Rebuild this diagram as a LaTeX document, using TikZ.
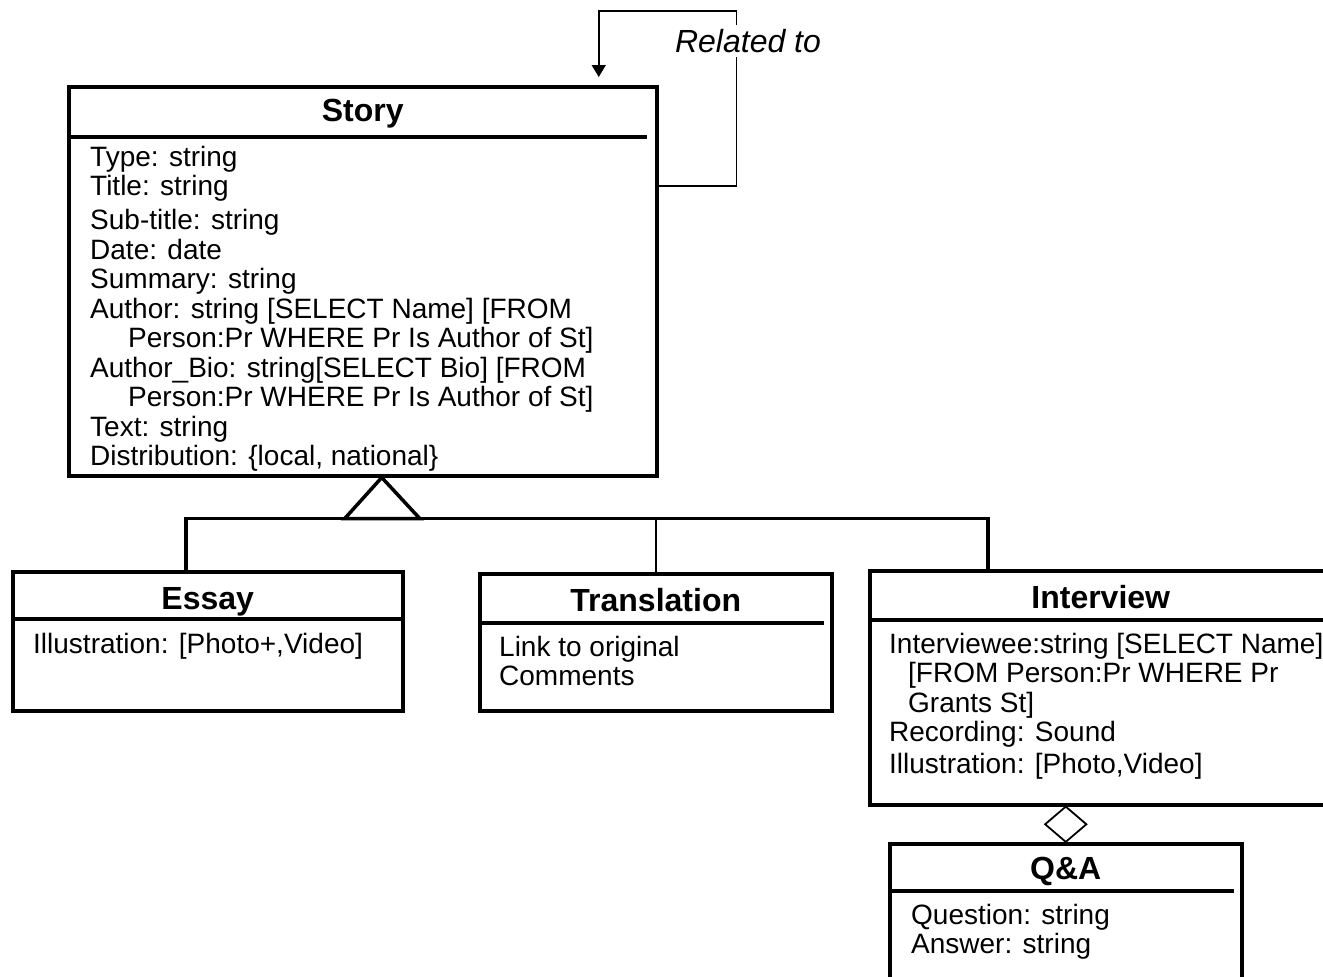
\documentclass[tikz,border=0pt]{standalone}
\usepackage{fontspec}
\setmainfont{Liberation Sans}
\usetikzlibrary{positioning, arrows.meta, calc, shapes.geometric}
\tikzset{
  classbox/.style={draw, line width=3.5pt, anchor=north west, inner sep=0pt},
  classname/.style={font=\fontsize{32}{36}\selectfont\bfseries, anchor=base, inner sep=0pt},
  attrs/.style={font=\fontsize{28}{29.5}\selectfont, align=left, anchor=north west, inner sep=0pt},
  divider/.style={line width=3.5pt},
  link/.style={line width=1.8pt},
  rolelabel/.style={font=\fontsize{32}{36}\selectfont\itshape, fill=white, inner sep=4pt},
}

\begin{document}
\begin{tikzpicture}[x=1pt, y=-1pt]
  \useasboundingbox (0,0) rectangle (1323,977);
  \clip (0,0) rectangle (1323,977);

  % classes
  \node[classbox, minimum width=588pt, minimum height=389pt] (story) at (67,85) {};
  \node[classbox, minimum width=390pt, minimum height=139pt] (essay) at (11,570) {};
  \node[classbox, minimum width=352pt, minimum height=137pt] (translation) at (478,572) {};
  \node[classbox, minimum width=458pt, minimum height=234pt] (interview) at (868,569) {};
  \node[classbox, minimum width=352pt, minimum height=150pt] (qa) at (888,842) {};

  \draw[divider] ($(story.north west)+(0,52)$) -- ++(580,0);
  \draw[divider] ($(essay.north west)+(0,49)$) -- ++(390,0);
  \draw[divider] ($(translation.north west)+(0,51)$) -- ++(346,0);
  \draw[divider] ($(interview.north west)+(0,51)$) -- ++(458,0);
  \draw[divider] ($(qa.north west)+(0,49)$) -- ++(346,0);

  \node[classname] (storyname) at ($(story.north)+(0,36)$) {Story};
  \node[classname] (essayname) at ($(essay.north)+(0,39)$) {Essay};
  \node[classname] (translationname) at ($(translation.north)+(0,39)$) {Translation};
  \node[classname] (interviewname) at ($(interview.north)+(2,39)$) {Interview};
  \node[classname] (qaname) at ($(qa.north)+(0,37)$) {Q\&A};

  \node[attrs] (storyattrs) at ($(story.north west)+(23,61)$) {Type: string\\
    Title: string\\[4.5pt]
    Sub-title: string\\
    Date: date\\
    Summary: string\\
    Author: string [SELECT Name] [FROM\\
    \hspace*{38pt}Person:Pr WHERE Pr Is Author of St]\\
    Author\_Bio: string[SELECT Bio] [FROM\\
    \hspace*{38pt}Person:Pr WHERE Pr Is Author of St]\\
    Text: string\\
    Distribution: \{local, national\}};
  \node[attrs] (essayattrs) at ($(essay.north west)+(22,63)$) {Illustration: [Photo+,Video]};
  \node[attrs] (translationattrs) at ($(translation.north west)+(21,64)$) {Link to original\\
    Comments};
  \node[attrs] (interviewattrs) at ($(interview.north west)+(21,64)$) {Interviewee:string [SELECT Name]\\
    \hspace*{19pt}[FROM Person:Pr WHERE Pr\\
    \hspace*{19pt}Grants St]\\
    Recording: Sound\\[2pt]
    Illustration: [Photo,Video]};
  \node[attrs] (qaattrs) at ($(qa.north west)+(23,62)$) {Question: string\\
    Answer: string};

  % generalisation
  \coordinate (apex) at ([xshift=19pt]story.south);
  \coordinate (bus) at ($(apex)+(0,41)$);
  \draw[divider, line join=miter] (apex) -- ++(-37,41) -- ++(75,0) -- cycle;
  \draw[divider] ([xshift=-22pt]essay.north) |- (bus) -| ([xshift=-111pt]interview.north);
  \draw[link] (translation.north) -- (translation.north |- bus);

  % aggregation
  \node[diamond, draw, line width=1.8pt, fill=white, inner sep=0pt,
        minimum width=42pt, minimum height=36pt] (agg)
        at ($(qa.north)!0.5!(qa.north |- interview.south)$) {};

  % self association
  \draw[link, -{Triangle[length=12pt, width=14pt]}, shorten >=8pt]
    ($(story.north east)+(0,101)$) -| ($(story.north east)+(78,-74)$) -| ([xshift=236pt]story.north);
  \node[rolelabel] (related) at (748,41) {Related to};
\end{tikzpicture}
\end{document}
